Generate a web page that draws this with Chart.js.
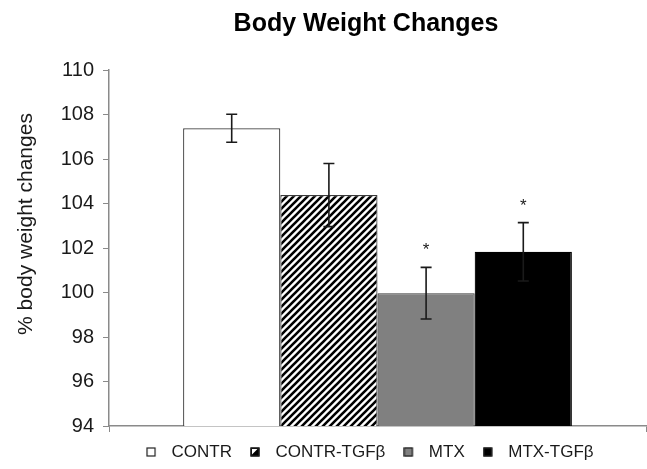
<!DOCTYPE html>
<html>
<head>
<meta charset="utf-8">
<script src="https://cdn.jsdelivr.net/npm/chart.js@4.4.1/dist/chart.umd.min.js"></script>
<style>
  html, body { margin: 0; padding: 0; background: #ffffff; }
  #c { display: block; }
</style>
</head>
<body>
<canvas id="c" width="647" height="469"></canvas>
<script>
// ---- data ----
const categories = ['CONTR', 'CONTR-TGFβ', 'MTX', 'MTX-TGFβ'];
const values = [107.38, 104.38, 99.97, 101.83];
const errors = [0.63, 1.42, 1.16, 1.31];
const markers = ['', '', '*', '*'];
const yMin = 94;
const yMax = 110;
const yStep = 2;
const titleText = 'Body Weight Changes';
const yTitleText = '% body weight changes';

const FONT = "'Liberation Sans', Arial, sans-serif";

function makeHatch() {
  const s = 7;
  const c = document.createElement('canvas');
  c.width = s; c.height = s;
  const g = c.getContext('2d');
  g.fillStyle = '#ffffff';
  g.fillRect(0, 0, s, s);
  g.strokeStyle = '#000000';
  g.lineWidth = 2.6;
  g.beginPath();
  g.moveTo(-1, s + 1); g.lineTo(s + 1, -1);
  g.moveTo(-2, 2); g.lineTo(2, -2);
  g.moveTo(s - 2, s + 2); g.lineTo(s + 2, s - 2);
  g.stroke();
  return g.createPattern(c, 'repeat');
}
const hatch = makeHatch();

const fills = ['#ffffff', hatch, '#808080', '#000000'];
const borders = ['#3a3a3a', '#3a3a3a', '#3a3a3a', '#000000'];

function legendIcon(kind) {
  const c = document.createElement('canvas');
  c.width = 17; c.height = 11;
  const g = c.getContext('2d');
  const x = 0.5, y = 0.5, w = 9, h = 9;
  if (kind === 0) { g.fillStyle = '#ffffff'; g.fillRect(x, y, w, h); }
  if (kind === 1) {
    g.fillStyle = '#000000'; g.fillRect(x, y, w, h);
    g.fillStyle = '#ffffff';
    g.beginPath(); g.moveTo(x + 1.5, y + 1.5); g.lineTo(x + 7, y + 1.5); g.lineTo(x + 1.5, y + 7); g.closePath(); g.fill();
  }
  if (kind === 2) { g.fillStyle = '#808080'; g.fillRect(x, y, w, h); }
  if (kind === 3) { g.fillStyle = '#000000'; g.fillRect(x, y, w, h); }
  g.strokeStyle = '#222222';
  g.lineWidth = 1.2;
  g.strokeRect(x + 0.5, y + 0.5, w - 1, h - 1);
  return c;
}
const icons = [0, 1, 2, 3].map(legendIcon);

const datasets = categories.map((name, i) => ({
  label: name,
  data: [values[i]],
  backgroundColor: fills[i],
  borderColor: borders[i],
  borderWidth: 1.2,
  borderSkipped: 'bottom',
  categoryPercentage: 0.724,
  barPercentage: 1.0
}));

const errorBarPlugin = {
  id: 'errorBars',
  afterDatasetsDraw(chart) {
    const ctx = chart.ctx;
    const y = chart.scales.y;
    ctx.save();
    chart.data.datasets.forEach((ds, i) => {
      const meta = chart.getDatasetMeta(i);
      const bar = meta.data[0];
      if (!bar) return;
      const x = bar.x;
      const v = values[i];
      const top = y.getPixelForValue(v + errors[i]);
      const bot = y.getPixelForValue(v - errors[i]);
      ctx.strokeStyle = '#1a1a1a';
      ctx.lineWidth = 1.6;
      ctx.beginPath();
      ctx.moveTo(x, top); ctx.lineTo(x, bot);
      ctx.moveTo(x - 5.5, top); ctx.lineTo(x + 5.5, top);
      ctx.moveTo(x - 5.5, bot); ctx.lineTo(x + 5.5, bot);
      ctx.stroke();
      if (markers[i]) {
        ctx.fillStyle = '#1a1a1a';
        ctx.font = '17px ' + FONT;
        ctx.textAlign = 'center';
        ctx.textBaseline = 'alphabetic';
        ctx.fillText(markers[i], x, top - 12);
      }
    });
    ctx.restore();
  }
};

const yTitlePlugin = {
  id: 'yTitle',
  afterDraw(chart) {
    const ctx = chart.ctx;
    ctx.save();
    ctx.translate(26.5, 224);
    ctx.rotate(-Math.PI / 2);
    ctx.font = '21px ' + FONT;
    ctx.fillStyle = '#1a1a1a';
    ctx.textAlign = 'center';
    ctx.textBaseline = 'middle';
    ctx.fillText(yTitleText, 0, 0);
    ctx.restore();
  }
};

// Title and legend are centred on the whole chart frame (Excel style), not the plot area.
const frameAlignPlugin = {
  id: 'frameAlign',
  afterLayout(chart) {
    if (chart.titleBlock) { chart.titleBlock.left = 86; }
    if (chart.legend) { chart.legend.left = 93.6; }
  }
};

new Chart(document.getElementById('c'), {
  type: 'bar',
  data: { labels: [''], datasets: datasets },
  options: {
    responsive: false,
    animation: false,
    devicePixelRatio: 1,
    layout: { padding: { left: 0, right: 1, top: 0, bottom: -2 } },
    plugins: {
      tooltip: { enabled: false },
      title: {
        display: true,
        fullSize: false,
        text: titleText,
        color: '#000000',
        font: { family: FONT, size: 25, weight: 'bold', lineHeight: 1.2 },
        padding: { top: 9, bottom: 31 }
      },
      legend: {
        display: true,
        fullSize: false,
        position: 'bottom',
        onClick: null,
        labels: {
          usePointStyle: true,
          boxWidth: 17,
          padding: 18,
          color: '#1a1a1a',
          font: { family: FONT, size: 17 },
          generateLabels(chart) {
            return categories.map((name, i) => ({
              text: name,
              fillStyle: fills[i],
              strokeStyle: '#222',
              lineWidth: 0,
              pointStyle: icons[i],
              hidden: false,
              datasetIndex: i,
              fontColor: '#1a1a1a'
            }));
          }
        }
      }
    },
    scales: {
      x: {
        type: 'category',
        offset: true,
        grid: { display: true, drawOnChartArea: false, drawTicks: true, tickLength: 6, color: '#8a8a8a', lineWidth: 1 },
        border: { display: true, color: '#8a8a8a', width: 1.5 },
        ticks: { display: false },
        afterFit(scale) { scale.height = 0; }
      },
      y: {
        min: yMin,
        max: yMax,
        grid: { display: true, drawOnChartArea: false, drawTicks: true, tickLength: 6, color: '#8a8a8a', lineWidth: 1 },
        border: { display: true, color: '#8a8a8a', width: 1.5 },
        ticks: {
          stepSize: yStep,
          padding: 9,
          color: '#1a1a1a',
          font: { family: FONT, size: 20 }
        },
        afterFit(scale) { scale.width = 109; }
      }
    }
  },
  plugins: [errorBarPlugin, yTitlePlugin, frameAlignPlugin]
});
</script>
</body>
</html>
